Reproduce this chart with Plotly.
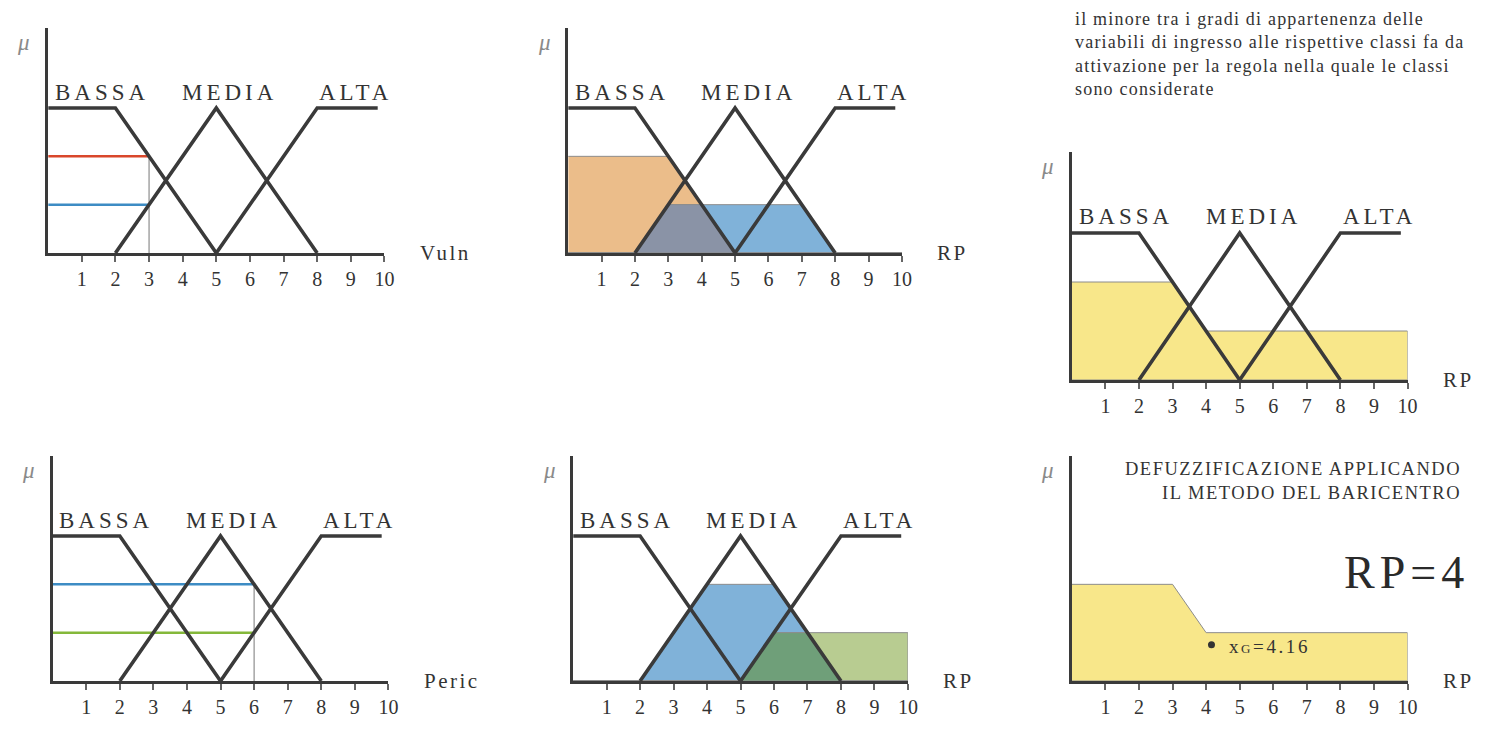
import numpy as np
import plotly.graph_objects as go

# ---------------- data ----------------
x_ticks = [1, 2, 3, 4, 5, 6, 7, 8, 9, 10]
class_names = ["BASSA", "MEDIA", "ALTA"]
bassa_x = [0, 2, 5]
bassa_y = [1, 1, 0]
media_x = [2, 5, 8]
media_y = [0, 1, 0]
alta_x = [5, 8, 9.8]
alta_y = [0, 1, 1]
vuln_value = 3
peric_value = 6
rp_activation = [2 / 3, 1 / 3, 1 / 3]   # BASSA, MEDIA, ALTA (aggregated rules)
centroid_x = 4.16
centroid_mu = 0.25
rp_result = 4
axis_titles = ["Vuln", "RP", "RP", "Peric", "RP", "RP"]
paragraph_lines = [
    "il minore tra i gradi di appartenenza delle",
    "variabili di ingresso alle rispettive classi fa da",
    "attivazione per la regola nella quale le classi",
    "sono considerate",
]
defuzz_lines = ["DEFUZZIFICAZIONE APPLICANDO", "IL METODO DEL BARICENTRO"]

# ---------------- helpers ----------------
W, H = 1502, 740
FONT = "Liberation Serif"
DARK = "#3a3a3a"
EDGE = "#8c8c8c"
X_MAX = 10.0

mfs = [(bassa_x, bassa_y), (media_x, media_y), (alta_x, alta_y)]


def f_eval(f, x):
    return np.interp(x, f[0], f[1])


def combine(fa, fb, op):
    xs = sorted(set([0.0, X_MAX]) | set(float(v) for v in fa[0]) | set(float(v) for v in fb[0]))
    xs = [x for x in xs if 0 <= x <= X_MAX]
    pts = []
    for a, b in zip(xs[:-1], xs[1:]):
        da = f_eval(fa, a) - f_eval(fb, a)
        db = f_eval(fa, b) - f_eval(fb, b)
        pts.append(a)
        if da * db < 0:
            pts.append(a + (b - a) * da / (da - db))
    pts.append(xs[-1])
    pts = np.array(pts)
    return list(pts), list(op(f_eval(fa, pts), f_eval(fb, pts)))


def clip(f, h):
    return combine(f, ([0.0, X_MAX], [h, h]), np.minimum)


def polygon(f):
    return list(f[0]) + [X_MAX, 0.0], list(f[1]) + [0.0, 0.0]


# activations read from the input membership functions
vuln_act = [float(f_eval(m, vuln_value)) for m in mfs]
peric_act = [float(f_eval(m, peric_value)) for m in mfs]

# panel geometry in pixels: (x of 0, x of 10, baseline y, pixels per unit of mu)
panels = [
    (48.5, 387, 253, 145),
    (572, 908, 253, 145),
    (1079, 1417, 380, 147),
    (53, 391, 681, 145),
    (577, 914, 681, 145),
    (1079, 1417, 681, 145),
]
YMAX = 1.55


def to_paper(i, x, y):
    x0, x10, base, unit = panels[i - 1]
    return (x0 + x * (x10 - x0) / X_MAX) / W, 1 - (base - y * unit) / H


fig = go.Figure()
layout = dict(
    width=W, height=H, margin=dict(l=0, r=0, t=0, b=0),
    paper_bgcolor="white", plot_bgcolor="white", showlegend=False,
    annotations=[],
)


def ax(i):
    return ("x" if i == 1 else f"x{i}"), ("y" if i == 1 else f"y{i}")


for i, (x0, x10, base, unit) in enumerate(panels, start=1):
    xn, yn = ax(i)
    top = base - YMAX * unit
    layout["xaxis" if i == 1 else f"xaxis{i}"] = dict(
        domain=[x0 / W, x10 / W], range=[0, X_MAX], anchor=yn,
        showline=True, linecolor=DARK, linewidth=2.5,
        ticks="outside", tickvals=x_ticks, ticklen=6, tickwidth=1.5, tickcolor="#666",
        ticklabelstandoff=0,
        tickfont=dict(family=FONT, size=20, color="#333"),
        showgrid=False, zeroline=False, fixedrange=True,
    )
    layout["yaxis" if i == 1 else f"yaxis{i}"] = dict(
        domain=[1 - base / H, 1 - top / H], range=[0, YMAX], anchor=xn,
        showline=True, linecolor=DARK, linewidth=2.5,
        showticklabels=False, ticks="", showgrid=False, zeroline=False, fixedrange=True,
    )
    # mu symbol
    mx_, my_ = to_paper(i, -0.72, 1.45)
    layout["annotations"].append(dict(
        x=mx_, y=my_, xref="paper", yref="paper", xanchor="center", yanchor="middle",
        text="<i>μ</i>", showarrow=False,
        font=dict(family=FONT, size=23, color="#8a8a8a"),
    ))
    # axis title
    tx, ty = to_paper(i, 11.0, 0)
    layout["annotations"].append(dict(
        x=tx, y=ty, xref="paper", yref="paper", xanchor="left", yanchor="middle",
        text=f"<span style='letter-spacing:2.5px'>{axis_titles[i - 1]}</span>",
        showarrow=False, font=dict(family=FONT, size=21, color="#333"),
    ))

fill_line = dict(color=EDGE, width=1)

# ---- panel 2: rule outputs from Vuln
c_orange = clip(mfs[0], vuln_act[0])
c_blue = clip(mfs[1], vuln_act[1])
c_both = combine(c_orange, c_blue, np.minimum)
for f, col in ((c_orange, "rgb(235,189,138)"), (c_blue, "rgb(128,178,217)"),
               (c_both, "rgb(138,147,166)")):
    px, py = polygon(f)
    fig.add_trace(go.Scatter(x=px, y=py, xaxis="x2", yaxis="y2", mode="lines", fill="toself",
                             fillcolor=col, line=fill_line, hoverinfo="skip"))

# ---- panel 5: rule outputs from Peric
c_blue5 = clip(mfs[1], peric_act[1])
c_green5 = clip(mfs[2], peric_act[2])
c_both5 = combine(c_blue5, c_green5, np.minimum)
for f, col in ((c_blue5, "rgb(128,178,217)"), (c_green5, "rgb(184,204,145)"),
               (c_both5, "rgb(111,159,121)")):
    px, py = polygon(f)
    fig.add_trace(go.Scatter(x=px, y=py, xaxis="x5", yaxis="y5", mode="lines", fill="toself",
                             fillcolor=col, line=fill_line, hoverinfo="skip"))

# ---- panels 3 and 6: aggregated output
agg = clip(mfs[0], rp_activation[0])
for m, h in zip(mfs[1:], rp_activation[1:]):
    agg = combine(agg, clip(m, h), np.maximum)
px, py = polygon(agg)
for xa, ya in (("x3", "y3"), ("x6", "y6")):
    fig.add_trace(go.Scatter(x=px, y=py, xaxis=xa, yaxis=ya, mode="lines", fill="toself",
                             fillcolor="rgb(248,231,138)", line=fill_line, hoverinfo="skip"))

# ---- panel 1: input Vuln guide lines
fig.add_trace(go.Scatter(x=[vuln_value, vuln_value], y=[0, max(vuln_act)], xaxis="x", yaxis="y",
                         mode="lines", line=dict(color="#777", width=1), hoverinfo="skip"))
fig.add_trace(go.Scatter(x=[0, vuln_value], y=[vuln_act[0]] * 2, xaxis="x", yaxis="y",
                         mode="lines", line=dict(color="#d9472b", width=2.5), hoverinfo="skip"))
fig.add_trace(go.Scatter(x=[0, vuln_value], y=[vuln_act[1]] * 2, xaxis="x", yaxis="y",
                         mode="lines", line=dict(color="#3d8cc4", width=2.5), hoverinfo="skip"))

# ---- panel 4: input Peric guide lines
fig.add_trace(go.Scatter(x=[peric_value, peric_value], y=[0, max(peric_act)], xaxis="x4", yaxis="y4",
                         mode="lines", line=dict(color="#777", width=1), hoverinfo="skip"))
fig.add_trace(go.Scatter(x=[0, peric_value], y=[peric_act[1]] * 2, xaxis="x4", yaxis="y4",
                         mode="lines", line=dict(color="#3d8cc4", width=2.5), hoverinfo="skip"))
fig.add_trace(go.Scatter(x=[0, peric_value], y=[peric_act[2]] * 2, xaxis="x4", yaxis="y4",
                         mode="lines", line=dict(color="#84b83a", width=2.5), hoverinfo="skip"))

# ---- membership functions + class labels (panels 1-5)
label_x = [1.6, 5.4, 9.15]
for i in range(1, 6):
    xn, yn = ax(i)
    for (mx, my), name, lx in zip(mfs, class_names, label_x):
        fig.add_trace(go.Scatter(x=mx, y=my, xaxis=xn, yaxis=yn, mode="lines",
                                 line=dict(color=DARK, width=3.6), hoverinfo="skip"))
        layout["annotations"].append(dict(
            x=lx, y=1.11, xref=xn, yref=yn, showarrow=False,
            text=f"<span style='letter-spacing:4px'>{name}</span>",
            font=dict(family=FONT, size=23, color="#333"),
        ))

# ---- panel 6: centroid
fig.add_trace(go.Scatter(x=[centroid_x], y=[centroid_mu], xaxis="x6", yaxis="y6", mode="markers",
                         marker=dict(color="#333", size=7), hoverinfo="skip"))
layout["annotations"].append(dict(
    x=4.62, y=0.24, xref="x6", yref="y6", xanchor="left", yanchor="middle", showarrow=False,
    text=f"<span style='letter-spacing:2.6px'>x<span style='font-size:13px'>G</span>={centroid_x:.2f}</span>",
    font=dict(family=FONT, size=19, color="#333"),
))
rx, ry = to_paper(6, 11.9, 0.745)
layout["annotations"].append(dict(
    x=rx, y=ry, xref="paper", yref="paper", xanchor="right", yanchor="middle", showarrow=False,
    text=f"<span style='letter-spacing:5px'>RP={rp_result}</span>",
    font=dict(family=FONT, size=46, color="#2a2a2a"),
))
dx, dy = to_paper(6, 11.65, 1.376)
layout["annotations"].append(dict(
    x=dx, y=dy, xref="paper", yref="paper", xanchor="right", yanchor="middle", showarrow=False,
    align="right",
    text="<br>".join(f"<span style='letter-spacing:1.5px'>{t}</span>" for t in defuzz_lines),
    font=dict(family=FONT, size=18.5, color="#333"),
))

# ---- explanatory paragraph
layout["annotations"].append(dict(
    x=1080 / W, y=1 - 7 / H, xref="paper", yref="paper", xanchor="left", yanchor="top",
    showarrow=False, align="left",
    text="<br>".join(f"<span style='letter-spacing:1.2px'>{t}</span>" for t in paragraph_lines),
    font=dict(family=FONT, size=18, color="#333"),
))

fig.update_layout(**layout)
fig.write_html("out.html")
